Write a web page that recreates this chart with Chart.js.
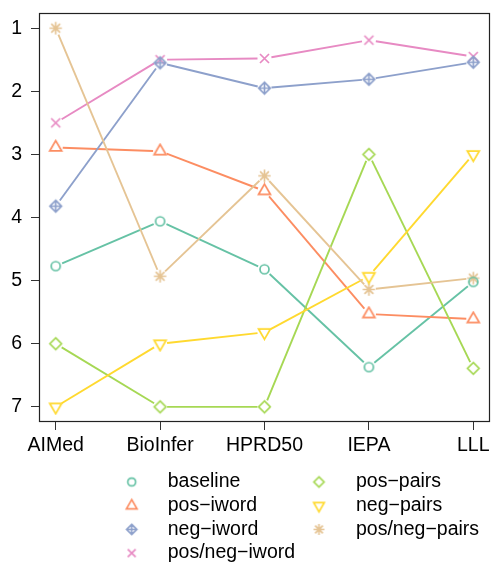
<!DOCTYPE html>
<html>
<head>
<meta charset="utf-8">
<script src="https://cdn.jsdelivr.net/npm/chart.js@4"></script>
<style>
  html, body { margin: 0; padding: 0; background: #fff; }
</style>
</head>
<body>
<canvas id="rankChart" width="496" height="562"></canvas>
<script>
// Corpora on the x axis, rank ticks on the (reversed) y axis
const corpora = ['AIMed', 'BioInfer', 'HPRD50', 'IEPA', 'LLL'];
const rankTicks = [1, 2, 3, 4, 5, 6, 7];

// Average rank of each feature set per corpus
const baseline    = [4.77, 4.06, 4.82, 6.37, 5.02];
const posIword    = [2.89, 2.95, 3.58, 5.53, 5.61];
const negIword    = [3.82, 1.55, 1.95, 1.81, 1.54];
const posNegIword = [2.50, 1.50, 1.48, 1.19, 1.45];
const posPairs    = [6.00, 7.00, 7.00, 3.00, 6.39];
const negPairs    = [7.00, 6.00, 5.82, 4.93, 3.00];
const posNegPairs = [1.00, 4.93, 3.34, 5.14, 4.96];

const seriesNames = ['baseline', 'pos\u2212iword', 'neg\u2212iword', 'pos/neg\u2212iword',
                     'pos\u2212pairs', 'neg\u2212pairs', 'pos/neg\u2212pairs'];
const seriesValues = [baseline, posIword, negIword, posNegIword, posPairs, negPairs, posNegPairs];
const seriesColors = ['#66C2A5', '#FC8D62', '#8DA0CB', '#E78AC3', '#A6D854', '#FFD92F', '#E5C494'];
const seriesShapes = ['circle', 'triUp', 'diamondPlus', 'cross', 'diamond', 'triDown', 'asterisk'];

const FONT = '"Liberation Sans", Arial, Helvetica, sans-serif';
const FONT_SIZE = 19.5;

// R-like open plotting symbols drawn on small canvases
function makeMarker(shape, color, k) {
    const size = 17;
    const c = document.createElement('canvas');
    c.width = size;
    c.height = size;
    const g = c.getContext('2d');
    const m = size / 2;
    g.strokeStyle = color;
    g.lineWidth = 1.7;
    g.beginPath();
    switch (shape) {
        case 'circle':
            g.arc(m, m, 4.5 * k, 0, 2 * Math.PI);
            break;
        case 'triUp':
            g.moveTo(m, m - 6.9 * k); g.lineTo(m + 6 * k, m + 3.45 * k); g.lineTo(m - 6 * k, m + 3.45 * k); g.closePath();
            break;
        case 'triDown':
            g.moveTo(m, m + 6.9 * k); g.lineTo(m + 6 * k, m - 3.45 * k); g.lineTo(m - 6 * k, m - 3.45 * k); g.closePath();
            break;
        case 'diamond':
        case 'diamondPlus': {
            const r = 5.8 * k;
            g.moveTo(m, m - r); g.lineTo(m + r, m); g.lineTo(m, m + r); g.lineTo(m - r, m); g.closePath();
            if (shape === 'diamondPlus') {
                g.moveTo(m - r, m); g.lineTo(m + r, m);
                g.moveTo(m, m - r); g.lineTo(m, m + r);
            }
            break;
        }
        case 'cross': {
            const r = 4.5 * k;
            g.moveTo(m - r, m - r); g.lineTo(m + r, m + r);
            g.moveTo(m + r, m - r); g.lineTo(m - r, m + r);
            break;
        }
        case 'asterisk': {
            const r = 4.4 * k, p = 6.2 * k;
            g.moveTo(m - r, m - r); g.lineTo(m + r, m + r);
            g.moveTo(m + r, m - r); g.lineTo(m - r, m + r);
            g.moveTo(m - p, m); g.lineTo(m + p, m);
            g.moveTo(m, m - p); g.lineTo(m, m + p);
            break;
        }
    }
    g.stroke();
    return c;
}

const markers = seriesShapes.map((s, i) => makeMarker(s, seriesColors[i], 1));
const legendMarkers = seriesShapes.map((s, i) => makeMarker(s, seriesColors[i], 0.88));

// Lines between points with a gap round each symbol (like R type = "b")
const gappedLines = {
    id: 'gappedLines',
    beforeDatasetsDraw(chart) {
        const ctx = chart.ctx;
        const gap = 7;
        ctx.save();
        ctx.lineWidth = 1.9;
        chart.data.datasets.forEach((ds, i) => {
            const pts = chart.getDatasetMeta(i).data;
            ctx.strokeStyle = ds.borderColor;
            for (let j = 0; j < pts.length - 1; j++) {
                const a = pts[j], b = pts[j + 1];
                const dx = b.x - a.x, dy = b.y - a.y;
                const d = Math.sqrt(dx * dx + dy * dy);
                if (d <= 2 * gap) continue;
                const ux = dx / d, uy = dy / d;
                ctx.beginPath();
                ctx.moveTo(a.x + ux * gap, a.y + uy * gap);
                ctx.lineTo(b.x - ux * gap, b.y - uy * gap);
                ctx.stroke();
            }
        });
        ctx.restore();
    }
};

// Box round the plot region
const plotBox = {
    id: 'plotBox',
    afterDatasetsDraw(chart) {
        const { left, top, right, bottom } = chart.chartArea;
        const ctx = chart.ctx;
        ctx.save();
        ctx.strokeStyle = '#222';
        ctx.lineWidth = 1.2;
        ctx.strokeRect(Math.round(left) + 0.5, Math.round(top) + 0.5,
                       Math.round(right - left) - 1, Math.round(bottom - top) - 1);
        ctx.restore();
    }
};

// Two-column legend under the plot, filled column by column
const bottomLegend = {
    id: 'bottomLegend',
    afterDraw(chart) {
        const ctx = chart.ctx;
        const cols = [{ mx: 131.7, tx: 167.7 }, { mx: 319, tx: 356 }];
        const rowY = 482, rowStep = 23.7;
        ctx.save();
        ctx.font = FONT_SIZE + 'px ' + FONT;
        ctx.fillStyle = '#000';
        ctx.textBaseline = 'middle';
        ctx.textAlign = 'left';
        seriesNames.forEach((name, i) => {
            const col = cols[i < 4 ? 0 : 1];
            const y = rowY + (i < 4 ? i : i - 4) * rowStep;
            const mk = legendMarkers[i];
            ctx.drawImage(mk, col.mx - mk.width / 2, y - mk.height / 2);
            ctx.fillText(name, col.tx, y);
        });
        ctx.restore();
    }
};

const datasets = seriesNames.map((name, i) => ({
    label: name,
    data: seriesValues[i].map((v, j) => ({ x: j + 1, y: v })),
    borderColor: seriesColors[i],
    backgroundColor: seriesColors[i],
    showLine: false,
    pointStyle: markers[i],
    pointRadius: 5
}));

new Chart(document.getElementById('rankChart'), {
    type: 'scatter',
    data: { datasets: datasets },
    options: {
        responsive: false,
        animation: false,
        events: [],
        layout: { padding: { top: 13, right: 1, left: 0, bottom: 0 } },
        plugins: {
            legend: { display: false },
            tooltip: { enabled: false }
        },
        scales: {
            x: {
                type: 'linear',
                min: 0.84,
                max: 5.16,
                afterBuildTicks: s => { s.ticks = corpora.map((c, i) => ({ value: i + 1 })); },
                afterFit: s => { s.height = 140; s.paddingLeft = 0; s.paddingRight = 0; },
                ticks: {
                    callback: v => corpora[v - 1],
                    color: '#000',
                    font: { family: FONT, size: FONT_SIZE },
                    padding: 4,
                    maxRotation: 0,
                    autoSkip: false
                },
                grid: { drawOnChartArea: false, tickLength: 8, color: '#333' },
                border: { display: false }
            },
            y: {
                reverse: true,
                min: 0.76,
                max: 7.24,
                afterBuildTicks: s => { s.ticks = rankTicks.map(v => ({ value: v })); },
                afterFit: s => { s.width = 39; s.paddingTop = 0; s.paddingBottom = 0; },
                ticks: {
                    color: '#000',
                    font: { family: FONT, size: FONT_SIZE },
                    padding: 9
                },
                grid: { drawOnChartArea: false, tickLength: 8, color: '#333' },
                border: { display: false }
            }
        }
    },
    plugins: [gappedLines, plotBox, bottomLegend]
});
</script>
</body>
</html>
